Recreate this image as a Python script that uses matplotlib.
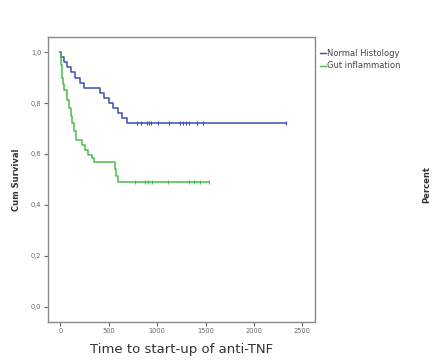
import matplotlib
matplotlib.use("Agg")
import matplotlib.pyplot as plt
from matplotlib.lines import Line2D

# Normal Histology: event times and survival after each event
blue_times = [0, 10, 40, 70, 110, 150, 200, 245, 405, 450, 500, 540, 590, 640, 690]
blue_surv = [1.0, 0.98, 0.96, 0.94, 0.92, 0.90, 0.88, 0.86, 0.84, 0.82, 0.80, 0.78, 0.76, 0.74, 0.72]
blue_cens = [788, 830, 892, 913, 934, 1006, 1120, 1234, 1265, 1296, 1327, 1410, 1473, 2333]

# Gut inflammation
green_times = [0, 5, 10, 15, 20, 25, 35, 73, 93, 110, 124, 145, 166, 218, 249, 280, 322, 352, 560, 575, 590]
green_surv = [1.0, 0.975, 0.95, 0.925, 0.90, 0.875, 0.85, 0.81, 0.78, 0.75, 0.72, 0.69, 0.655, 0.635,
              0.615, 0.596, 0.584, 0.567, 0.54, 0.515, 0.49]
green_cens = [767, 871, 902, 944, 1110, 1327, 1379, 1441, 1535]

series_names = ["Normal Histology", "Gut inflammation"]
blue_c = "#3d4fae"
green_c = "#4cba4c"

x_ticks = [0, 500, 1000, 1500, 2000, 2500]
y_ticks = [0.0, 0.2, 0.4, 0.6, 0.8, 1.0]

fig = plt.figure(figsize=(4.35, 3.61), dpi=100)
ax = fig.add_axes([0.110, 0.108, 0.614, 0.790])


def km(ax, times, surv, cens, color):
    end = max(cens)
    xs = list(times) + [end]
    ys = list(surv) + [surv[-1]]
    ax.step(xs, ys, where="post", color=color, lw=1.1)
    cy = []
    for c in cens:
        s = surv[0]
        for t, v in zip(times, surv):
            if t <= c:
                s = v
        cy.append(s)
    ax.plot(cens, cy, ls="none", marker="|", ms=3, mew=0.8, color=color)


km(ax, blue_times, blue_surv, blue_cens, blue_c)
km(ax, green_times, green_surv, green_cens, green_c)

ax.set_xlim(-130, 2630)
ax.set_ylim(-0.06, 1.06)
ax.set_xticks(x_ticks)
ax.set_xticklabels([str(v) for v in x_ticks])
ax.set_yticks(y_ticks)
ax.set_yticklabels([f"{v:.1f}".replace(".", ",") for v in y_ticks])
ax.tick_params(axis="both", labelsize=4.8, colors="#666666", length=3, width=0.8, pad=1.5)
for sp in ax.spines.values():
    sp.set_color("#8a8a8a")
    sp.set_linewidth(1.0)

ax.set_ylabel("Cum Survival", fontsize=6, fontweight="bold", color="#333333", labelpad=7)
ax.set_xlabel("Time to start-up of anti-TNF", fontsize=9.5, color="#333333", labelpad=6)

handles = [Line2D([0], [0], color=blue_c, lw=1.0), Line2D([0], [0], color=green_c, lw=1.0)]
leg = fig.legend(handles, series_names, loc="upper left", bbox_to_anchor=(0.735, 0.865),
                 frameon=False, fontsize=6, handlelength=0.8, handletextpad=0.1,
                 labelspacing=0.45, borderpad=0, borderaxespad=0)
for t in leg.get_texts():
    t.set_color("#444444")

fig.text(0.982, 0.49, "Percent", rotation=90, fontsize=6, fontweight="bold",
         color="#333333", ha="center", va="center")

fig.savefig("out.png", dpi=100, facecolor="white")
